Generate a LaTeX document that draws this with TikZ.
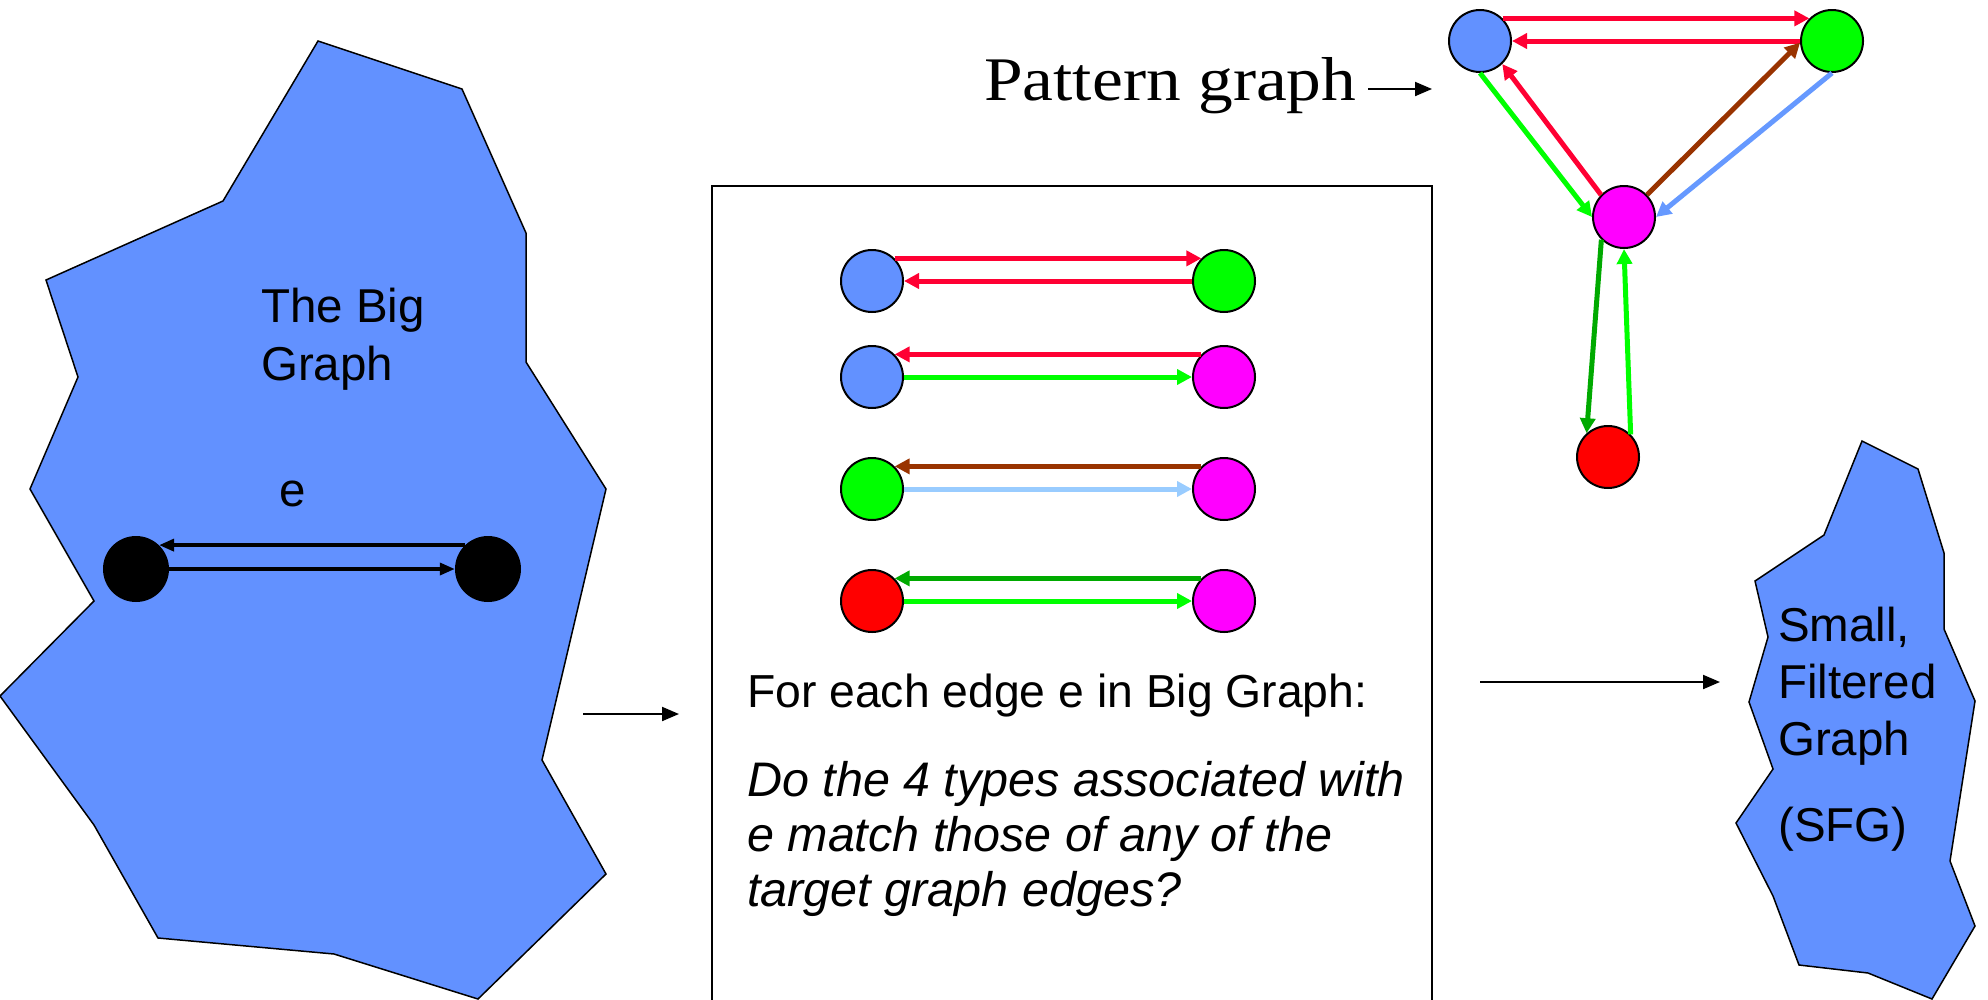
\documentclass[tikz,border=0pt]{standalone}
\usepackage{fontspec}
\setmainfont{Liberation Sans}
\newfontfamily\serifpat{Liberation Serif}[FakeStretch=1.12]
\usetikzlibrary{arrows.meta}
\definecolor{polyblue}{RGB}{98,145,255}
\definecolor{ngreen}{RGB}{0,255,0}
\definecolor{nmagenta}{RGB}{255,0,255}
\definecolor{nred}{RGB}{255,0,0}
\definecolor{ered}{RGB}{255,0,51}
\definecolor{egreen}{RGB}{0,255,0}
\definecolor{ebrown}{RGB}{153,51,0}
\definecolor{elblue}{RGB}{153,204,255}
\definecolor{ecorn}{RGB}{102,153,255}
\definecolor{edkgreen}{RGB}{0,170,0}
\begin{document}
\begin{tikzpicture}[x=1pt,y=-1pt,
  vtx/.style={circle,draw=black,line width=2pt,minimum size=62pt,inner sep=0pt},
  bignode/.style={circle,fill=black,minimum size=66pt,inner sep=0pt},
  cedge/.style={line width=5pt,-{Triangle[length=15pt,width=15pt]}},
  bedge/.style={line width=3.5pt,-{Triangle[length=15pt,width=12pt]}},
  flow/.style={line width=2pt,-{Triangle[length=17pt,width=14pt]}},
  blob/.style={fill=polyblue,draw=black,line width=1.5pt,line join=miter},
  lbl/.style={inner sep=0pt,anchor=base west,font=\fontsize{47.5}{56}\selectfont},
  boxtxt/.style={inner sep=0pt,anchor=base west,font=\fontsize{46.3}{52}\selectfont},
  boxit/.style={inner sep=0pt,anchor=base west,font=\fontsize{48.5}{54}\selectfont\itshape},
]
\useasboundingbox (0,0) rectangle (1988,999);
\clip (0,0) rectangle (1988,999);

% big graph blob
\draw[blob] (318,41) -- (462,89) -- (526,233) -- (526,362) -- (606,489) -- (542,760)
  -- (606,874) -- (478,999) -- (334,954) -- (158,938) -- (94,825) -- (0,696)
  -- (94,601) -- (30,489) -- (78,377) -- (46,280) -- (223,201) -- cycle;

% small filtered graph blob
\draw[blob] (1862,441) -- (1918,469) -- (1944,553) -- (1944,629) -- (1975,701)
  -- (1950,861) -- (1975,926) -- (1932,999) -- (1868,973) -- (1799,965)
  -- (1773,896) -- (1736,823) -- (1773,769) -- (1749,702) -- (1768,637)
  -- (1755,581) -- (1824,535) -- cycle;

% middle box
\draw[line width=2pt] (712,186) rectangle (1432,1012);

% big graph content
\node[lbl] (tbg1) at (261,322) {The Big};
\node[lbl] (tbg2) at (261,380) {Graph};
\node[lbl,anchor=base] (elab) at (293,506) {e};
\node[bignode] (bl) at (136,569) {};
\node[bignode] (br) at (488,569) {};
\draw[bedge] (br.134) -- (bl.46);
\draw[bedge] (bl.east) -- (br.west);

% SFG text
\node[lbl] (s1) at (1778,641.7) {Small,};
\node[lbl] (s2) at (1778,698.3) {Filtered};
\node[lbl] (s3) at (1778,755) {Graph};
\node[lbl] (s4) at (1778,841.7) {(SFG)};

% box rows
\node[vtx,fill=polyblue] (r1a) at (872,281) {};
\node[vtx,fill=ngreen]   (r1b) at (1224,281) {};
\node[vtx,fill=polyblue] (r2a) at (872,377) {};
\node[vtx,fill=nmagenta] (r2b) at (1224,377) {};
\node[vtx,fill=ngreen]   (r3a) at (872,489) {};
\node[vtx,fill=nmagenta] (r3b) at (1224,489) {};
\node[vtx,fill=nred]     (r4a) at (872,601) {};
\node[vtx,fill=nmagenta] (r4b) at (1224,601) {};
\draw[cedge,ered] (r1a.45) -- (r1b.135);
\draw[cedge,ered] (r1b.west) -- (r1a.east);
\draw[cedge,ered] (r2b.135) -- (r2a.45);
\draw[cedge,egreen] (r2a.east) -- (r2b.west);
\draw[cedge,ebrown] (r3b.135) -- (r3a.45);
\draw[cedge,elblue] (r3a.east) -- (r3b.west);
\draw[cedge,edkgreen] (r4b.135) -- (r4a.45);
\draw[cedge,egreen] (r4a.east) -- (r4b.west);

% box text
\node[boxtxt] (f1) at (747,707) {For each edge e in Big Graph:};
\node[boxit] (f2) at (747,796) {Do the 4 types associated with};
\node[boxit] (f3) at (747,851) {e match those of any of the};
\node[boxit] (f4) at (747,906) {target graph edges?};

% pattern graph
\node[inner sep=0pt,anchor=base west,font=\serifpat\fontsize{62}{70}\selectfont] (pat) at (984,100) {Pattern graph};
\node[vtx,fill=polyblue] (pb) at (1480,41) {};
\node[vtx,fill=ngreen]   (pg) at (1832,41) {};
\node[vtx,fill=nmagenta] (pm) at (1624,217) {};
\node[vtx,fill=nred]     (pr) at (1608,457) {};
\draw[cedge,ered] (pb.45) -- (pg.135);
\draw[cedge,ered] (pg.west) -- (pb.east);
\draw[cedge,egreen] (pb.south) -- (pm.west);
\draw[cedge,ered] (pm.136) -- (pb.-46);
\draw[cedge,ebrown] (pm.44) -- (pg.183);
\draw[cedge,ecorn] (pg.south) -- (pm.east);
\draw[cedge,edkgreen] (pm.225) -- (pr.132);
\draw[cedge,egreen] (pr.45) -- (pm.south);

% flow arrows
\coordinate (pa1) at (1368,89);
\coordinate (pa2) at (1432,89);
\draw[flow] (pa1) -- (pa2);
\coordinate (la1) at (583,714);
\coordinate (la2) at (679,714);
\draw[flow] (la1) -- (la2);
\coordinate (ra1) at (1480,682);
\coordinate (ra2) at (1720,682);
\draw[flow] (ra1) -- (ra2);
\end{tikzpicture}
\end{document}
